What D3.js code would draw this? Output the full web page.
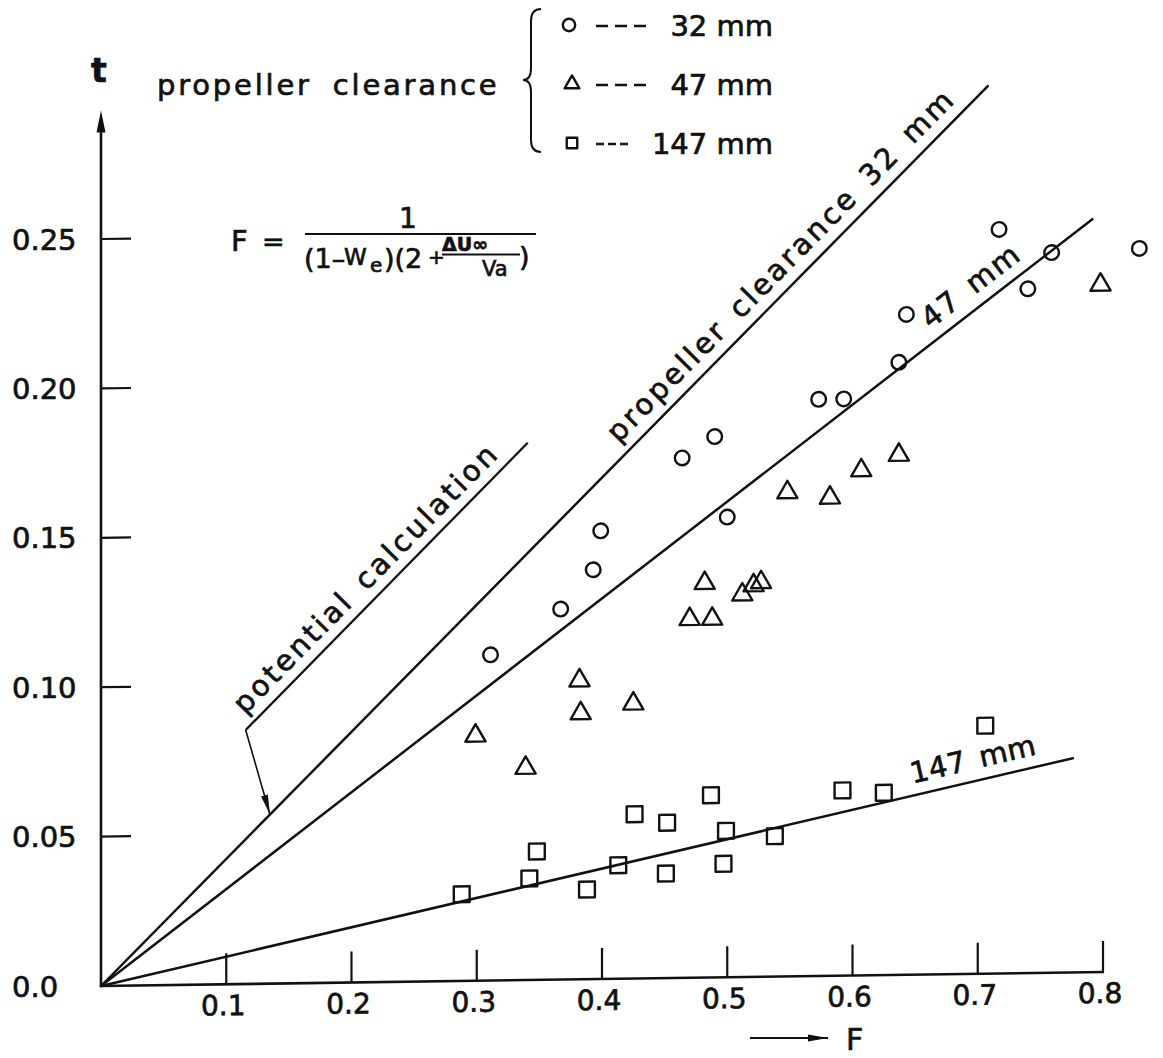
<!DOCTYPE html>
<html><head><meta charset="utf-8">
<script src="https://cdn.jsdelivr.net/npm/d3@7"></script>
<style>
html,body{margin:0;padding:0;background:#fff;}
svg{display:block;font-family:"DejaVu Sans",sans-serif;}
svg text{stroke:#111;stroke-width:0.7px;}
</style></head><body>
<svg id="chart" width="1163" height="1058"></svg>
<script>
// ---------- data ----------
const xTicks = [0.1, 0.2, 0.3, 0.4, 0.5, 0.6, 0.7, 0.8];
const xTickLabels = ["0.1", "0.2", "0.3", "0.4", "0.5", "0.6", "0.7", "0.8"];
const yTicks = [0, 0.05, 0.10, 0.15, 0.20, 0.25];
const yTickLabels = ["0.0", "0.05", "0.10", "0.15", "0.20", "0.25"];
const seriesNames = ["32 mm", "47 mm", "147 mm"];

// propeller clearance 32 mm (circles)
const F32 = [0.311, 0.367, 0.393, 0.399, 0.464, 0.490, 0.500, 0.573, 0.593, 0.637, 0.643, 0.717, 0.740, 0.759, 0.829];
const t32 = [0.109, 0.124, 0.137, 0.150, 0.174, 0.181, 0.154, 0.193, 0.193, 0.205, 0.221, 0.249, 0.229, 0.241, 0.242];
// propeller clearance 47 mm (triangles)
const F47 = [0.299, 0.339, 0.382, 0.383, 0.425, 0.470, 0.488, 0.482, 0.512, 0.521, 0.527, 0.548, 0.582, 0.607, 0.637, 0.798];
const t47 = [0.082, 0.071, 0.100, 0.089, 0.092, 0.120, 0.120, 0.132, 0.128, 0.131, 0.132, 0.162, 0.160, 0.169, 0.174, 0.230];
// propeller clearance 147 mm (squares)
const F147 = [0.288, 0.342, 0.348, 0.388, 0.413, 0.426, 0.451, 0.452, 0.487, 0.497, 0.499, 0.538, 0.592, 0.625, 0.706];
const t147 = [0.029, 0.034, 0.043, 0.030, 0.038, 0.055, 0.035, 0.052, 0.061, 0.038, 0.049, 0.047, 0.062, 0.061, 0.083];

// straight fitted lines from the origin: end points
const lineEndF = [0.708, 0.7915, 0.776];
const lineEndT = [0.297, 0.252, 0.0717];
const lineLabels = ["propeller clearance 32 mm", "47 mm", "147 mm"];

// "potential calculation" leader line and arrow target
const leaderF = [0.1155, 0.3407];
const leaderT = [0.0850, 0.1798];
const arrowTargetF = 0.1349;

// ---------- layout ----------
const svg = d3.select("#chart");
const x = d3.scaleLinear().domain([0, 0.8]).range([101, 1103]);
const y = d3.scaleLinear().domain([0, 0.25]).range([986, 239]);
const ox = x(0), oy = y(0);
const ink = "#111";

const defs = svg.append("defs");
defs.append("marker").attr("id", "ah").attr("viewBox", "0 0 20 10")
  .attr("refX", 20).attr("refY", 5).attr("markerWidth", 20).attr("markerHeight", 10)
  .attr("markerUnits", "userSpaceOnUse").attr("orient", "auto")
  .append("path").attr("d", "M0,1.5 L20,5 L0,8.5 Z").attr("fill", ink);

// the scanned figure is slightly sheared: x-axis rises towards the right
const g = svg.append("g")
  .attr("transform", `translate(${ox},${oy}) skewY(-0.8) translate(${-ox},${-oy})`);

// axes
const yTop = 0.293;
g.append("line").attr("x1", ox).attr("y1", oy).attr("x2", ox).attr("y2", y(yTop) + 18)
  .attr("stroke", ink).attr("stroke-width", 2.6);
g.append("path")
  .attr("d", `M${ox},${y(yTop)} L${ox - 4.5},${y(yTop) + 22} L${ox + 4.5},${y(yTop) + 22} Z`)
  .attr("fill", ink);
g.append("line").attr("x1", ox - 1).attr("y1", oy).attr("x2", x(0.8) + 1).attr("y2", oy)
  .attr("stroke", ink).attr("stroke-width", 2.6);

g.selectAll(".yt").data(yTicks.slice(1)).join("line")
  .attr("x1", ox).attr("x2", ox + 30).attr("y1", d => y(d)).attr("y2", d => y(d))
  .attr("stroke", ink).attr("stroke-width", 2.2);
g.selectAll(".xt").data(xTicks).join("line")
  .attr("x1", d => x(d)).attr("x2", d => x(d)).attr("y1", oy).attr("y2", oy - 31)
  .attr("stroke", ink).attr("stroke-width", 2.2);

g.selectAll(".xl").data(xTicks).join("text")
  .attr("x", d => x(d) - 3).attr("y", oy + 31).attr("text-anchor", "middle")
  .attr("font-size", 28).attr("fill", ink)
  .text((d, i) => xTickLabels[i]);

svg.selectAll(".yl").data(yTicks).join("text")
  .attr("x", 12).attr("y", d => y(d) + 10.5)
  .attr("font-size", 29).attr("fill", ink)
  .text((d, i) => yTickLabels[i]);

// axis titles
svg.append("text").attr("x", 91).attr("y", 82).attr("font-size", 33)
  .attr("font-weight", "bold").attr("fill", ink).text("t");
svg.append("line").attr("x1", 750).attr("y1", 1038).attr("x2", 828).attr("y2", 1038)
  .attr("stroke", ink).attr("stroke-width", 2).attr("marker-end", "url(#ah)");
svg.append("text").attr("x", 846).attr("y", 1050).attr("font-size", 30).attr("fill", ink).text("F");

// fitted lines
lineEndF.forEach((f, i) => {
  g.append("line").attr("x1", x(0)).attr("y1", y(0)).attr("x2", x(f)).attr("y2", y(lineEndT[i]))
    .attr("stroke", ink).attr("stroke-width", 2.5).attr("stroke-linecap", "round");
});

// labels along lines
function alongLabel(x1, y1, x2, y2, along, offset, txt, size, ls, ws) {
  const dx = x2 - x1, dy = y2 - y1, L = Math.hypot(dx, dy);
  const ux = dx / L, uy = dy / L;
  const nx = uy, ny = -ux; // normal pointing to upper-left
  const px = x1 + ux * along + nx * offset, py = y1 + uy * along + ny * offset;
  const ang = Math.atan2(dy, dx) * 180 / Math.PI;
  g.append("text").attr("transform", `translate(${px},${py}) rotate(${ang})`)
    .attr("font-size", size).attr("letter-spacing", ls).attr("word-spacing", ws || 0)
    .attr("fill", ink).text(txt);
}
const labelStartF = [0.42, 0.668, 0.650];
const labelSpacing = [3, 2, 0.5];
lineEndF.forEach((f, i) => {
  const x2 = x(f), y2 = y(lineEndT[i]);
  const L = Math.hypot(x2 - ox, y2 - oy);
  const along = L * labelStartF[i] / f;
  alongLabel(ox, oy, x2, y2, along, 12, lineLabels[i], 29, labelSpacing[i], 4);
});

// potential calculation leader
const lx1 = x(leaderF[0]), ly1 = y(leaderT[0]), lx2 = x(leaderF[1]), ly2 = y(leaderT[1]);
g.append("line").attr("x1", lx1).attr("y1", ly1).attr("x2", lx2).attr("y2", ly2)
  .attr("stroke", ink).attr("stroke-width", 2.3);
alongLabel(lx1, ly1, lx2, ly2, 10, 11, "potential calculation", 29, 3, 4);
const k32 = lineEndT[0] / lineEndF[0];
g.append("line").attr("x1", lx1).attr("y1", ly1)
  .attr("x2", x(arrowTargetF)).attr("y2", y(arrowTargetF * k32))
  .attr("stroke", ink).attr("stroke-width", 1.6).attr("marker-end", "url(#ah)");

// data points
const sw = 2.4;
g.selectAll(".c32").data(F32.map((f, i) => [f, t32[i]])).join("circle")
  .attr("cx", d => x(d[0])).attr("cy", d => y(d[1])).attr("r", 7.3)
  .attr("fill", "none").attr("stroke", ink).attr("stroke-width", sw);
g.selectAll(".t47").data(F47.map((f, i) => [f, t47[i]])).join("path")
  .attr("transform", d => `translate(${x(d[0])},${y(d[1])})`)
  .attr("d", d3.symbol().type(d3.symbolTriangle).size(175))
  .attr("fill", "none").attr("stroke", ink).attr("stroke-width", sw).attr("stroke-linejoin", "round");
g.selectAll(".s147").data(F147.map((f, i) => [f, t147[i]])).join("path")
  .attr("transform", d => `translate(${x(d[0])},${y(d[1])})`)
  .attr("d", d3.symbol().type(d3.symbolSquare).size(250))
  .attr("fill", "none").attr("stroke", ink).attr("stroke-width", sw).attr("stroke-linejoin", "round");

// ---------- legend ----------
svg.append("text").attr("x", 157).attr("y", 95).attr("font-size", 29)
  .attr("letter-spacing", 2.8).attr("word-spacing", 9).attr("fill", ink).text("propeller clearance");
svg.append("path")
  .attr("d", "M541,9 Q531,9 531,21 L531,68 Q531,80 523,80 Q531,80 531,92 L531,140 Q531,152 541,152")
  .attr("fill", "none").attr("stroke", ink).attr("stroke-width", 2);
const legY = [25, 84, 143];
const legDashEnd = [648, 650, 630];
const symTypes = [d3.symbolCircle, d3.symbolTriangle, d3.symbolSquare];
const symSizes = [120, 95, 110];
seriesNames.forEach((name, i) => {
  svg.append("path").attr("transform", `translate(${569 + (i ? 3 : 0)},${legY[i]})`)
    .attr("d", d3.symbol().type(symTypes[i]).size(symSizes[i]))
    .attr("fill", "none").attr("stroke", ink).attr("stroke-width", 2.4).attr("stroke-linejoin", "round");
  svg.append("line").attr("x1", 596).attr("x2", legDashEnd[i]).attr("y1", legY[i] + 1).attr("y2", legY[i] + 1)
    .attr("stroke", ink).attr("stroke-width", 2.4)
    .attr("stroke-dasharray", i === 2 ? "8,4" : "12,7");
  svg.append("text").attr("x", 773).attr("y", legY[i] + 11).attr("text-anchor", "end")
    .attr("font-size", 29).attr("fill", ink).text(name);
});

// ---------- formula ----------
const fx = svg.append("g").attr("fill", ink);
fx.append("text").attr("x", 231).attr("y", 251).attr("font-size", 29).text("F");
fx.append("text").attr("x", 262).attr("y", 251).attr("font-size", 27).text("=");
fx.append("line").attr("x1", 305).attr("x2", 536).attr("y1", 234).attr("y2", 234)
  .attr("stroke", ink).attr("stroke-width", 2);
fx.append("text").attr("x", 408).attr("y", 228).attr("text-anchor", "middle").attr("font-size", 28).text("1");
fx.append("text").attr("x", 304).attr("y", 268).attr("font-size", 27).text("(1–");
fx.append("text").attr("x", 344).attr("y", 265).attr("font-size", 23).text("W");
fx.append("text").attr("x", 370).attr("y", 272).attr("font-size", 20).text("e");
fx.append("text").attr("x", 384).attr("y", 268).attr("font-size", 27).text(")(2");
fx.append("text").attr("x", 428).attr("y", 264).attr("font-size", 20).text("+");
fx.append("text").attr("x", 442).attr("y", 251).attr("font-size", 19).attr("font-weight", "bold").text("ΔU∞");
fx.append("line").attr("x1", 442).attr("x2", 520).attr("y1", 254.5).attr("y2", 254.5)
  .attr("stroke", ink).attr("stroke-width", 1.8);
fx.append("text").attr("x", 482).attr("y", 276).attr("font-size", 21).text("Va");
fx.append("text").attr("x", 519).attr("y", 266).attr("font-size", 27).text(")");
</script>
</body></html>
